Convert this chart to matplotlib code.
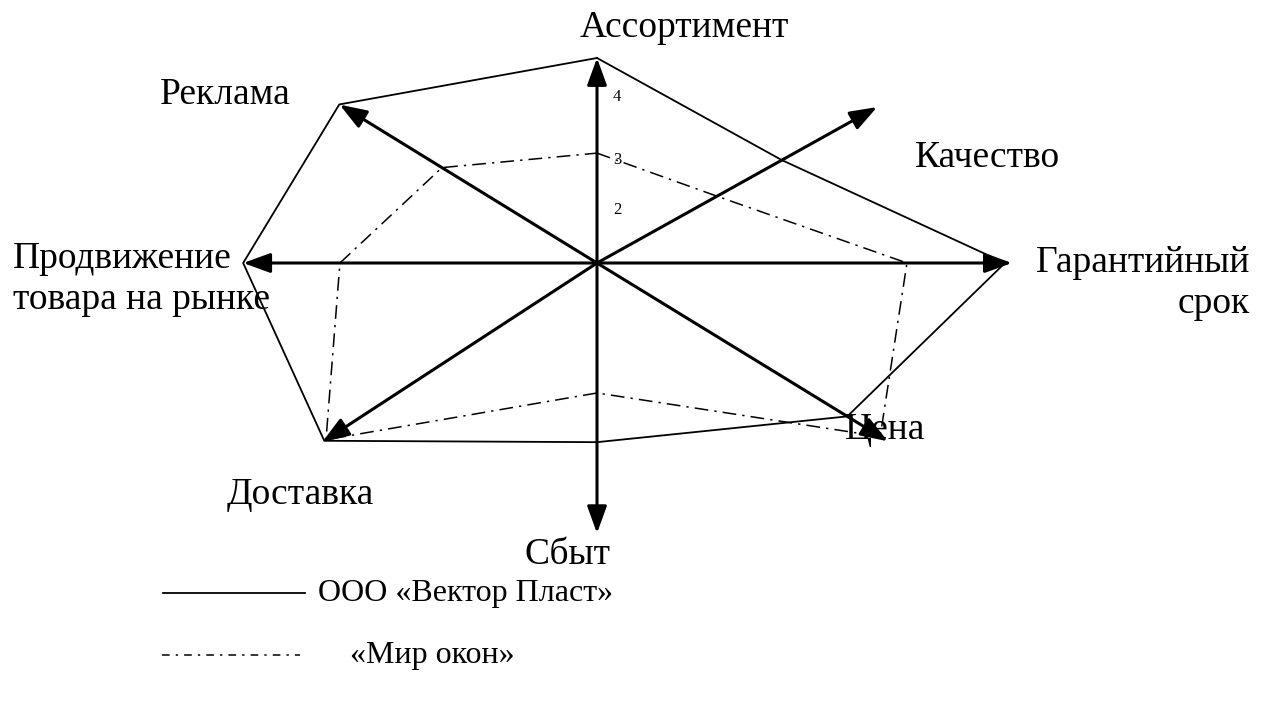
import matplotlib.pyplot as plt
import numpy as np

# Категории (оси) и оценки
categories = ['Ассортимент', 'Качество', 'Гарантийный\nсрок', 'Цена',
              'Сбыт', 'Доставка', 'Продвижение\nтовара на рынке', 'Реклама']
vektor = [5.0, 5.16, 9.95, 7.16, 4.37, 7.94, 8.63, 7.38]
mir_okon = [2.68, 3.35, 7.56, 8.10, 3.17, 7.89, 6.27, 4.44]
tick_labels = ['4', '3', '2']
tick_values = [4.05, 2.5, 1.3]
series_names = ['ООО «Вектор Пласт»', '«Мир окон»']

# Геометрия схемы (углы осей в градусах, длины стрелок)
axis_angles = [90, 29.1, 0, -31.5, -90, -146.9, 180, 148.4]
axis_lengths = [5.0, 7.82, 10.12, 8.32, 6.59, 8.0, 8.63, 7.37]

W, H = 1271, 704
cx, cy = 597, 441           # центр в пикселях (снизу)
unit = 41                   # пикселей на единицу оценки
R = 440

plt.rcParams['font.family'] = ['Liberation Serif', 'DejaVu Serif']

fig = plt.figure(figsize=(W / 100, H / 100), dpi=100)
ax = fig.add_axes([(cx - R) / W, (cy - R) / H, 2 * R / W, 2 * R / H],
                  projection='polar')
ax.set_rlim(0, R / unit)
ax.axis('off')

theta = np.deg2rad(axis_angles)

# Оси со стрелками
for th, ln in zip(theta, axis_lengths):
    ax.annotate('', xy=(th, ln), xytext=(0, 0),
                arrowprops=dict(arrowstyle='-|>,head_length=0.55,head_width=0.2',
                                color='black', lw=2.2,
                                mutation_scale=30, shrinkA=0, shrinkB=0))

# Многоугольники
th_closed = np.append(theta, theta[0])
ax.plot(th_closed, vektor + vektor[:1], color='black', lw=1.3)
ax.plot(th_closed, mir_okon + mir_okon[:1], color='black', lw=1.1,
        linestyle=(0, (9, 4, 1.5, 4)))

# Деления на оси ассортимента
for lbl, v in zip(tick_labels, tick_values):
    ax.annotate(lbl, xy=(np.pi / 2, v), xytext=(20, 0),
                textcoords='offset pixels', fontsize=12, va='center', ha='center')

# Подписи осей (в пикселях от верхнего левого угла)
def ftext(x, y, s, size=27, **kw):
    fig.text(x / W, 1 - y / H, s, fontsize=size, **kw)

ftext(684, 28, categories[0], ha='center', va='center')
ftext(915, 158, categories[1], ha='left', va='center')
ftext(1250, 283, categories[2], ha='right', va='center', multialignment='right',
      linespacing=1.25)
ftext(845, 430, categories[3], ha='left', va='center')
ftext(568, 555, categories[4], ha='center', va='center')
ftext(300, 495, categories[5], ha='center', va='center')
ftext(13, 279, categories[6], ha='left', va='center', multialignment='left',
      linespacing=1.25)
ftext(225, 95, categories[7], ha='center', va='center')

# Легенда
fig.add_artist(plt.Line2D([163 / W, 305 / W], [1 - 593 / H] * 2, color='black', lw=1.3))
fig.add_artist(plt.Line2D([162 / W, 300 / W], [1 - 655 / H] * 2, color='black', lw=1.1,
                          linestyle=(0, (5, 4, 1.5, 4))))
ftext(318, 593, series_names[0], size=23, ha='left', va='center')
ftext(350, 655, series_names[1], size=23, ha='left', va='center')

fig.savefig('out.png', dpi=100, facecolor='white')
